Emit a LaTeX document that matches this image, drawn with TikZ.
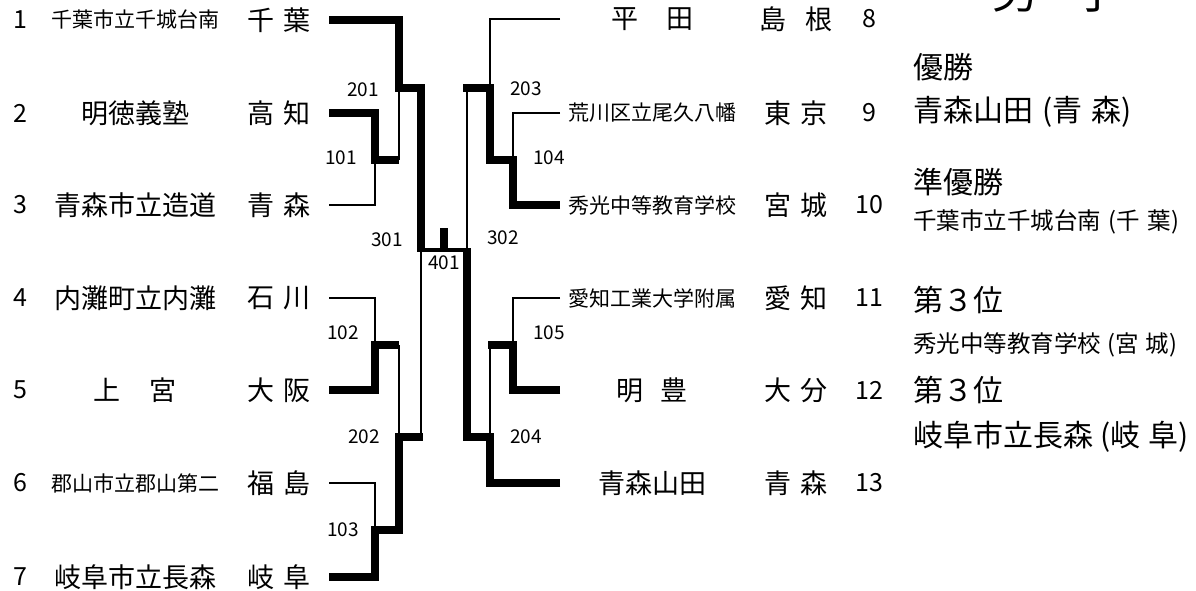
\documentclass[tikz,border=0pt]{standalone}
\usepackage{fontspec}
\setmainfont{Noto Sans CJK JP}
\usetikzlibrary{calc}
\newcommand{\myfs}[1]{\fontsize{#1}{#1}\selectfont}
\begin{document}
\begin{tikzpicture}[x=1pt,y=-1pt,
  win/.style={line width=7.5pt,line join=miter},
  lose/.style={line width=2.5pt,line join=miter},
  fin/.style={line width=4.5pt},
  big/.style={inner sep=0pt,font=\myfs{27}},
  sml/.style={inner sep=0pt,font=\myfs{21}},
  num/.style={inner sep=0pt,font=\myfs{25}},
  lbl/.style={inner sep=0pt,font=\myfs{19}},
  res/.style={inner sep=0pt,anchor=west,font=\myfs{30}},
  ress/.style={inner sep=0pt,anchor=west,font=\myfs{23.5}},
  ttl/.style={inner sep=0pt,anchor=base,font=\myfs{46}}]
\useasboundingbox (0,0) rectangle (1196,591);

% ---------- left side teams ----------
\node[num] (k1) at (20,20) {1};
\node[num] (k2) at (20,113) {2};
\node[num] (k3) at (20,205) {3};
\node[num] (k4) at (20,298) {4};
\node[num] (k5) at (20,390) {5};
\node[num] (k6) at (20,483) {6};
\node[num] (k7) at (20,577) {7};

\node[sml] (n1) at (135,20) {千葉市立千城台南};
\node[big] (n2) at (135,113) {明徳義塾};
\node[big] (n3) at (135,205) {青森市立造道};
\node[big] (n4) at (135,298) {内灘町立内灘};
\node[big] (n5) at (135,390) {上\hspace{30pt}宮};
\node[sml] (n6) at (135,483) {郡山市立郡山第二};
\node[big] (n7) at (135,577) {岐阜市立長森};

\node[big] (p1) at (279,20) {千\hspace{9pt}葉};
\node[big] (p2) at (279,113) {高\hspace{9pt}知};
\node[big] (p3) at (279,205) {青\hspace{9pt}森};
\node[big] (p4) at (279,298) {石\hspace{9pt}川};
\node[big] (p5) at (279,390) {大\hspace{9pt}阪};
\node[big] (p6) at (279,483) {福\hspace{9pt}島};
\node[big] (p7) at (279,577) {岐\hspace{9pt}阜};

% ---------- right side teams ----------
\node[big] (n8) at (652,19) {平\hspace{28pt}田};
\node[sml] (n9) at (652,113) {荒川区立尾久八幡};
\node[sml] (n10) at (652,205) {秀光中等教育学校};
\node[sml] (n11) at (652,298) {愛知工業大学附属};
\node[big] (n12) at (652,390) {明\hspace{17pt}豊};
\node[big] (n13) at (652,483) {青森山田};

\node[big] (p8) at (796,19) {島\hspace{19pt}根};
\node[big] (p9) at (796,113) {東\hspace{9pt}京};
\node[big] (p10) at (796,205) {宮\hspace{9pt}城};
\node[big] (p11) at (796,298) {愛\hspace{9pt}知};
\node[big] (p12) at (796,390) {大\hspace{9pt}分};
\node[big] (p13) at (796,483) {青\hspace{9pt}森};

\node[num] (k8) at (869,19) {8};
\node[num] (k9) at (869,113) {9};
\node[num] (k10) at (869,205) {10};
\node[num] (k11) at (869,298) {11};
\node[num] (k12) at (869,390) {12};
\node[num] (k13) at (869,483) {13};

% ---------- line ends and junctions ----------
\coordinate (t1) at (329,20);
\coordinate (t2) at (329,113);
\coordinate (t3) at (329,205);
\coordinate (t4) at (329,298);
\coordinate (t5) at (329,390);
\coordinate (t6) at (329,483);
\coordinate (t7) at (329,577);
\coordinate (t8) at (560,19);
\coordinate (t9) at (560,113);
\coordinate (t10) at (560,205);
\coordinate (t11) at (560,298);
\coordinate (t12) at (560,390);
\coordinate (t13) at (560,483);

\coordinate (m101) at (375,160);
\coordinate (m102) at (375,345);
\coordinate (m103) at (375,530);
\coordinate (m201) at (399,88);
\coordinate (m202) at (399,437);
\coordinate (m301) at (421,250);
\coordinate (m104) at (513,160);
\coordinate (m105) at (513,345);
\coordinate (m203) at (490,88);
\coordinate (m204) at (490,437);
\coordinate (m302) at (467,250);
\coordinate (m401) at (444,250);
\coordinate (champ) at (444,228);

% ---------- left bracket ----------
\draw[lose] (t3) -| (m101);
\draw[lose] (m101 -| m201) -- (m201);
\draw[win] (t2) -| (m101) -- (m101 -| m201);
\draw[win] (t1) -| (m201) -- (m201 -| m301) -- (m301);

\draw[lose] (t4) -| (m102);
\draw[lose] (m102 -| m202) -- (m202);
\draw[win] (t5) -| (m102) -- (m102 -| m202);
\draw[lose] (t6) -| (m103);
\draw[lose] (m202 -| m301) -- (m301);
\draw[win] (t7) -| (m103) -- (m103 -| m202) -- (m202) -- ($(m202 -| m301)+(1.5,0)$);

% ---------- right bracket ----------
\draw[lose] (t9) -| (m104);
\draw[lose] (t8) -| (m203);
\draw[lose] (m203 -| m302) -- (m302);
\draw[win] (t10) -| (m104) -- (m104 -| m203) -- (m203) -- ($(m203 -| m302)+(-3.75,0)$);

\draw[lose] (t11) -| (m105);
\draw[lose] (m105 -| m204) -- (m204);
\draw[win] (t12) -| (m105) -- ($(m105 -| m204)+(-2,0)$);
\draw[win] (t13) -| (m204) -- (m204 -| m302) -- (m302);

% ---------- final ----------
\draw[fin] ($(m301)+(-3.75,0)$) -- ($(m302)+(3.75,0)$);
\draw[win] (m401) -- (champ);

% ---------- match numbers ----------
\node[lbl] (g101) at (341,158) {101};
\node[lbl] (g102) at (343,333) {102};
\node[lbl] (g103) at (343,530) {103};
\node[lbl] (g201) at (363,90) {201};
\node[lbl] (g202) at (364,437) {202};
\node[lbl] (g301) at (387,240) {301};
\node[lbl] (g401) at (444,263) {401};
\node[lbl] (g104) at (549,158) {104};
\node[lbl] (g105) at (549,333) {105};
\node[lbl] (g203) at (526,89) {203};
\node[lbl] (g204) at (526,437) {204};
\node[lbl] (g302) at (503,238) {302};

% ---------- results ----------
\node[ttl] (ttl1) at (1015,9) {男};
\node[ttl] (ttl2) at (1097,9) {子};
\node[res] (r1) at (913,67) {優勝};
\node[res] (r2) at (913,112) {青森山田\hspace{9pt}(青\hspace{9pt}森)};
\node[res] (r3) at (913,182) {準優勝};
\node[ress] (r4) at (913,222) {千葉市立千城台南\hspace{7pt}(千\hspace{8pt}葉)};
\node[res] (r5) at (913,300) {第３位};
\node[ress] (r6) at (913,345) {秀光中等教育学校\hspace{6pt}(宮\hspace{7pt}城)};
\node[res] (r7) at (913,390) {第３位};
\node[res] (r8) at (913,437) {岐阜市立長森\hspace{7pt}(岐\hspace{8pt}阜)};
\end{tikzpicture}
\end{document}
